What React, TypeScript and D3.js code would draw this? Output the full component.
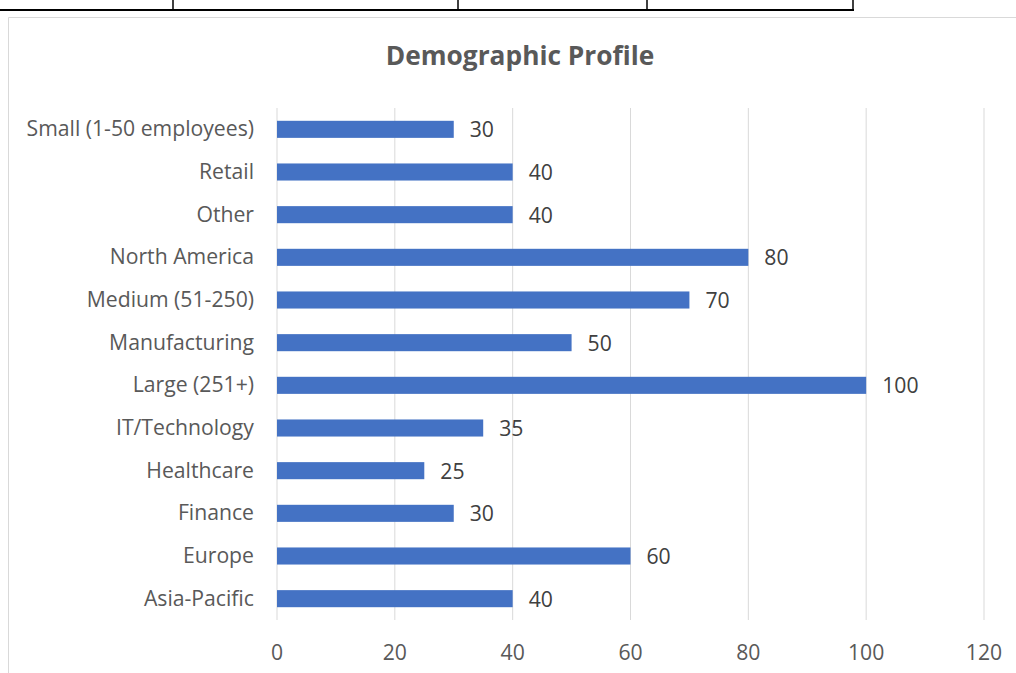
import React from 'react';
import * as d3 from 'd3';

const categories = [
  'Small (1-50 employees)',
  'Retail',
  'Other',
  'North America',
  'Medium (51-250)',
  'Manufacturing',
  'Large (251+)',
  'IT/Technology',
  'Healthcare',
  'Finance',
  'Europe',
  'Asia-Pacific'
];
const values = [30, 40, 40, 80, 70, 50, 100, 35, 25, 30, 60, 40];
const xTicks = [0, 20, 40, 60, 80, 100, 120];
const tableCols = [173, 458, 647, 853];

const W = 1016;
const H = 673;
const font = '"Open Sans", sans-serif';
const fs = 21.2;

const App = () => {
  // plot area
  const x = d3.scaleLinear().domain([0, 120]).range([277, 984]);
  const y = d3.scaleBand().domain(categories).range([108, 620]).paddingInner(0.6).paddingOuter(0.3);

  return (
    <svg width={W} height={H} style={{ position: 'absolute', left: 0, top: 0, background: '#fff' }}>
      {/* bits of the sheet table above the chart */}
      <line x1={0} x2={854} y1={10} y2={10} stroke='#000' strokeWidth={2} />
      {tableCols.map(c => (
        <line key={c} x1={c} x2={c} y1={0} y2={10} stroke='#000' strokeWidth={1.5} />
      ))}

      {/* chart frame */}
      <path d={`M8.5,${H} V17.5 H${W}`} fill='none' stroke='#d9d9d9' strokeWidth={1} />

      <text x={520} y={65} textAnchor='middle' fontFamily={font} fontWeight='bold' fontSize={26.3} fill='#595959'>
        Demographic Profile
      </text>

      {/* gridlines */}
      {xTicks.map(t => (
        <line key={t} x1={x(t)} x2={x(t)} y1={108} y2={620} stroke='#d9d9d9' strokeWidth={1} />
      ))}

      {/* bars */}
      {categories.map((c, i) => (
        <rect key={c} x={x(0)} y={y(c)} width={x(values[i]) - x(0)} height={y.bandwidth()} fill='#4472c4' />
      ))}

      {/* data labels */}
      {categories.map((c, i) => (
        <text key={c} x={x(values[i]) + 16} y={y(c)! + y.bandwidth() / 2 + 8} fontFamily={font} fontSize={fs} fill='#404040'>
          {values[i]}
        </text>
      ))}

      {/* category labels */}
      {categories.map(c => (
        <text key={c} x={254} y={y(c)! + y.bandwidth() / 2 + 7} textAnchor='end' fontFamily={font} fontSize={fs} fill='#595959'>
          {c}
        </text>
      ))}

      {/* x tick labels */}
      {xTicks.map(t => (
        <text key={t} x={x(t)} y={660} textAnchor='middle' fontFamily={font} fontSize={fs} fill='#595959'>
          {t}
        </text>
      ))}
    </svg>
  );
};

export default App;
